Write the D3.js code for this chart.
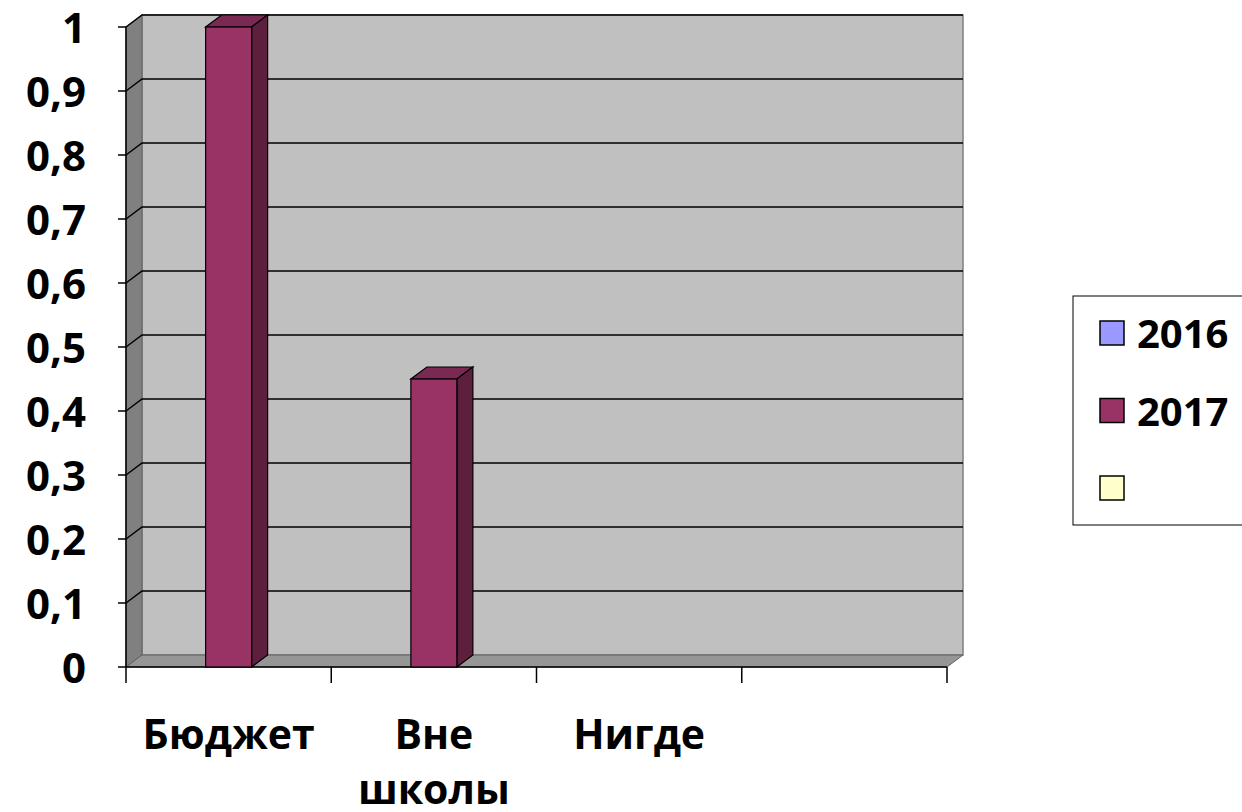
<!DOCTYPE html>
<html>
<head>
<meta charset="utf-8">
<script src="https://cdn.jsdelivr.net/npm/d3@7"></script>
<style>
  body { margin: 0; background: #fff; }
  text { font-family: "Open Sans", "DejaVu Sans", sans-serif; font-weight: bold; fill: #000; }
</style>
</head>
<body>
<div id="chart"></div>
<script>
// chart data
var categories = ["Бюджет", "Вне школы", "Нигде", ""];
var seriesNames = ["2016", "2017", ""];
var values2016 = [0, 0, 0, 0];
var values2017 = [1, 0.45, 0, 0];
var valuesBlank = [0, 0, 0, 0];
var yTicks = [0, 0.1, 0.2, 0.3, 0.4, 0.5, 0.6, 0.7, 0.8, 0.9, 1];

var w = 1242, h = 812;
var dx = 16, dy = -12;   // 3d depth offset

var svg = d3.select("#chart").append("svg")
    .attr("width", w)
    .attr("height", h);

var x = d3.scaleBand()
    .domain(d3.range(categories.length))
    .range([126, 947]);

var y = d3.scaleLinear()
    .domain([0, 1])
    .range([667, 27]);

var x0 = x.range()[0], x1 = x.range()[1];
var y0 = y(0), yTop = y(1);

function pts(a) { return a.map(function(p){ return p.join(","); }).join(" "); }

// back wall
svg.append("polygon")
    .attr("points", pts([[x0+dx, y0+dy], [x1+dx, y0+dy], [x1+dx, yTop+dy], [x0+dx, yTop+dy]]))
    .style("fill", "#c0c0c0")
    .style("stroke", "#808080")
    .style("stroke-width", 1.5);

// side wall
svg.append("polygon")
    .attr("points", pts([[x0, y0], [x0+dx, y0+dy], [x0+dx, yTop+dy], [x0, yTop]]))
    .style("fill", "#808080")
    .style("stroke", "#606060")
    .style("stroke-width", 1);

// floor
svg.append("polygon")
    .attr("points", pts([[x0, y0], [x1, y0], [x1+dx, y0+dy], [x0+dx, y0+dy]]))
    .style("fill", "#969696")
    .style("stroke", "#606060")
    .style("stroke-width", 1);

// gridlines on walls
var grid = svg.append("g");
yTicks.filter(function(d){ return d > 0; }).forEach(function(d) {
    grid.append("polyline")
        .attr("points", pts([[x0, y(d)], [x0+dx, y(d)+dy], [x1+dx, y(d)+dy]]))
        .style("fill", "none")
        .style("stroke", "#000")
        .style("stroke-width", 1.5);
});

// front axis lines
svg.append("line")
    .attr("x1", x0).attr("x2", x0).attr("y1", y0).attr("y2", yTop)
    .style("stroke", "#000").style("stroke-width", 1.5);
svg.append("line")
    .attr("x1", x0).attr("x2", x1).attr("y1", y0).attr("y2", y0)
    .style("stroke", "#000").style("stroke-width", 1.5);

// y ticks + labels
var yAxis = svg.append("g");
yTicks.forEach(function(d) {
    yAxis.append("line")
        .attr("x1", x0 - 8).attr("x2", x0).attr("y1", y(d)).attr("y2", y(d))
        .style("stroke", "#000").style("stroke-width", 1.5);
    yAxis.append("text")
        .attr("x", 86)
        .attr("y", y(d) + 16)
        .attr("text-anchor", "end")
        .style("font-size", "42px")
        .text(d3.format(".1f")(d).replace(".", ",").replace(/^0,0$/, "0").replace(/^1,0$/, "1"));
});

// x ticks
var xTicks = x.domain().map(function(i){ return x(i); }).concat([x1]);
xTicks.forEach(function(t) {
    svg.append("line")
        .attr("x1", t).attr("x2", t).attr("y1", y0).attr("y2", y0 + 16)
        .style("stroke", "#000").style("stroke-width", 1.5);
});

// category labels
categories.forEach(function(c, i) {
    var words = c.split(" ");
    var t = svg.append("text")
        .attr("text-anchor", "middle")
        .style("font-size", "41px");
    words.forEach(function(wd, k) {
        t.append("tspan")
            .attr("x", x(i) + x.bandwidth() / 2)
            .attr("y", 749 + k * 55)
            .text(wd);
    });
});

// bars (only 2017 has non-zero values)
var barW = 46;
var bars = svg.append("g");
values2017.forEach(function(v, i) {
    if (v <= 0) return;
    var bx = x(i) + x.bandwidth() / 2 - barW / 2;
    var by = y(v);
    // top
    bars.append("polygon")
        .attr("points", pts([[bx, by], [bx+barW, by], [bx+barW+dx, by+dy], [bx+dx, by+dy]]))
        .style("fill", "#7a2a52").style("stroke", "#000").style("stroke-width", 1.2);
    // side
    bars.append("polygon")
        .attr("points", pts([[bx+barW, by], [bx+barW+dx, by+dy], [bx+barW+dx, y0+dy], [bx+barW, y0]]))
        .style("fill", "#5e1f3e").style("stroke", "#000").style("stroke-width", 1.2);
    // front
    bars.append("rect")
        .attr("x", bx).attr("y", by)
        .attr("width", barW).attr("height", y0 - by)
        .style("fill", "#993366").style("stroke", "#000").style("stroke-width", 1.2);
});

// legend
var colors = ["#9999ff", "#993366", "#ffffcc"];
var legend = svg.append("g");
legend.append("rect")
    .attr("x", 1073).attr("y", 296)
    .attr("width", 180).attr("height", 229)
    .style("fill", "#fff").style("stroke", "#000").style("stroke-width", 1);
seriesNames.forEach(function(s, i) {
    var ly = 333 + i * 77.5;
    legend.append("rect")
        .attr("x", 1100).attr("y", ly - 12)
        .attr("width", 24).attr("height", 24)
        .style("fill", colors[i]).style("stroke", "#000").style("stroke-width", 1.5);
    legend.append("text")
        .attr("x", 1137).attr("y", ly + 15)
        .style("font-size", "40px")
        .text(s);
});
</script>
</body>
</html>
